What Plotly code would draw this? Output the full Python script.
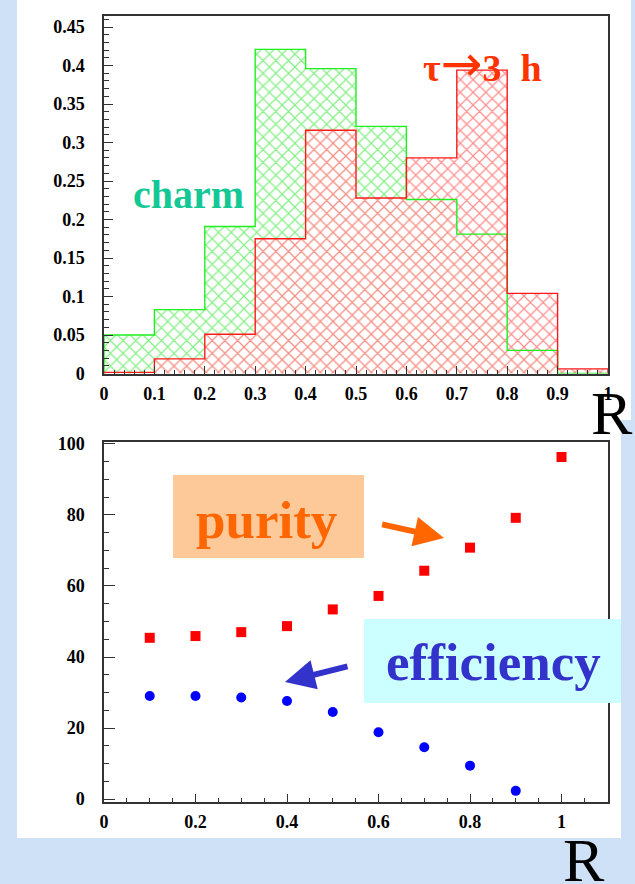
import plotly.graph_objects as go

W, H = 635, 884

# ---------------- data ----------------
bin_edges = [0.0, 0.1, 0.2, 0.3, 0.4, 0.5, 0.6, 0.7, 0.8, 0.9, 1.0]
charm = [0.050, 0.083, 0.191, 0.421, 0.396, 0.321, 0.226, 0.181, 0.030, 0.0]
tau3h = [0.0015, 0.019, 0.051, 0.175, 0.316, 0.228, 0.280, 0.394, 0.104, 0.006]

r_purity = [0.1, 0.2, 0.3, 0.4, 0.5, 0.6, 0.7, 0.8, 0.9, 1.0]
purity = [45.4, 45.9, 47.0, 48.7, 53.4, 57.2, 64.3, 70.8, 79.2, 96.3]
r_eff = [0.1, 0.2, 0.3, 0.4, 0.5, 0.6, 0.7, 0.8, 0.9]
efficiency = [29.0, 29.0, 28.6, 27.6, 24.5, 18.8, 14.6, 9.4, 2.3]

top_x_ticks = [0, 0.1, 0.2, 0.3, 0.4, 0.5, 0.6, 0.7, 0.8, 0.9, 1]
top_y_ticks = [0, 0.05, 0.1, 0.15, 0.2, 0.25, 0.3, 0.35, 0.4, 0.45]
bot_x_ticks = [0, 0.2, 0.4, 0.6, 0.8, 1]
bot_y_ticks = [0, 20, 40, 60, 80, 100]

# ---------------- helpers ----------------
def px(x):
    return x / W

def py(y):
    return 1 - y / H

centers = [(a + b) / 2 for a, b in zip(bin_edges[:-1], bin_edges[1:])]
widths = [b - a for a, b in zip(bin_edges[:-1], bin_edges[1:])]

def step_outline(edges, vals):
    xs = [edges[0]] + list(edges) + [edges[-1]]
    ys = [0] + list(vals) + [vals[-1], 0]
    return xs, ys

SERIF = "Liberation Serif"
tickfont = dict(family=SERIF, size=18, color="black", weight="bold")

fig = go.Figure()

# green (charm) hatch
fig.add_trace(go.Bar(
    x=centers, y=charm, width=widths, xaxis="x", yaxis="y",
    marker=dict(color="rgba(0,0,0,0)", line=dict(width=0),
                pattern=dict(shape="x", fgcolor="#10e010", bgcolor="rgba(0,0,0,0)",
                             size=9, solidity=0.26)),
    showlegend=False, hoverinfo="skip"))
# red (tau -> 3h) hatch
fig.add_trace(go.Bar(
    x=centers, y=tau3h, width=widths, xaxis="x", yaxis="y",
    marker=dict(color="rgba(0,0,0,0)", line=dict(width=0),
                pattern=dict(shape="x", fgcolor="#ff2020", bgcolor="rgba(255,255,255,0.85)",
                             size=9, solidity=0.26)),
    showlegend=False, hoverinfo="skip"))

gx, gy = step_outline(bin_edges, charm)
fig.add_trace(go.Scatter(x=gx, y=gy, mode="lines", line=dict(color="#1ef01e", width=1.4, shape="hv"),
                         xaxis="x", yaxis="y", showlegend=False, hoverinfo="skip"))
rx, ry = step_outline(bin_edges, tau3h)
fig.add_trace(go.Scatter(x=rx, y=ry, mode="lines", line=dict(color="#ff1a1a", width=1.4, shape="hv"),
                         xaxis="x", yaxis="y", showlegend=False, hoverinfo="skip"))

# bottom panel points
fig.add_trace(go.Scatter(x=r_purity, y=purity, mode="markers", xaxis="x2", yaxis="y2",
                         marker=dict(symbol="square", size=10, color="#ff0000"),
                         showlegend=False))
fig.add_trace(go.Scatter(x=r_eff, y=efficiency, mode="markers", xaxis="x2", yaxis="y2",
                         marker=dict(symbol="circle", size=10, color="#0000ff"),
                         showlegend=False))

axis_common = dict(showline=True, linecolor="#333333", linewidth=1.5, mirror=True,
                   showgrid=False, zeroline=False, ticks="inside", tickcolor="#333333",
                   tickwidth=1.2, tickfont=tickfont, fixedrange=True, automargin=False)

fig.update_layout(
    width=W, height=H,
    margin=dict(l=0, r=0, t=0, b=0, pad=0, autoexpand=False),
    paper_bgcolor="#cfe1f6",
    plot_bgcolor="white",
    barmode="overlay",
    xaxis=dict(domain=[px(104), px(608)], range=[0, 1], anchor="y",
               tickvals=top_x_ticks, ticktext=[f"{v:g}" for v in top_x_ticks],
               ticklen=8, ticklabelstandoff=3,
               minor=dict(dtick=0.02, tick0=0, ticklen=4, ticks="inside", tickcolor="#333333"),
               **axis_common),
    yaxis=dict(domain=[py(373.5), py(16)], range=[0, 0.4643], anchor="x",
               tickvals=top_y_ticks, ticktext=[f"{v:g}" for v in top_y_ticks],
               ticklen=9, ticklabelstandoff=14,
               minor=dict(dtick=0.01, tick0=0, ticklen=5, ticks="inside", tickcolor="#333333"),
               **axis_common),
    xaxis2=dict(domain=[px(104), px(608)], range=[0, 1.1016], anchor="y2",
                tickvals=bot_x_ticks, ticktext=[f"{v:g}" for v in bot_x_ticks],
                ticklen=8, ticklabelstandoff=3,
                minor=dict(dtick=0.05, tick0=0, ticklen=4, ticks="inside", tickcolor="#333333"),
                **axis_common),
    yaxis2=dict(domain=[py(801.7), py(441.5)], range=[-0.76, 100.7], anchor="x2",
                tickvals=bot_y_ticks, ticktext=[f"{v:g}" for v in bot_y_ticks],
                ticklen=11, ticklabelstandoff=14,
                minor=dict(dtick=5, tick0=0, ticklen=5, ticks="inside", tickcolor="#333333"),
                **axis_common),
)

shapes = [
    dict(type="rect", xref="paper", yref="paper", x0=px(17), x1=px(631), y0=py(420), y1=py(0),
         fillcolor="white", line=dict(width=0), layer="below"),
    dict(type="rect", xref="paper", yref="paper", x0=px(17), x1=px(621), y0=py(838), y1=py(420),
         fillcolor="white", line=dict(width=0), layer="below"),
    dict(type="rect", xref="paper", yref="paper", x0=px(173), x1=px(364), y0=py(558), y1=py(475),
         fillcolor="#fec999", line=dict(width=0), layer="above"),
    dict(type="rect", xref="paper", yref="paper", x0=px(364), x1=px(621), y0=py(703), y1=py(619),
         fillcolor="#ccffff", line=dict(width=0), layer="above"),
]
fig.update_layout(shapes=shapes)

tau_text = ("τ<span style='font-family:DejaVu Sans;font-size:50px;font-weight:normal'>→</span>3  h")

ann = [
    dict(text="charm", x=px(188), y=py(194), font=dict(family=SERIF, size=40, color="#14c896", weight="bold")),
    dict(text=tau_text, x=px(482), y=py(64), font=dict(family=SERIF, size=38, color="#ff3300", weight="bold")),
    dict(text="R", x=px(612), y=py(413), font=dict(family=SERIF, size=62, color="black")),
    dict(text="R", x=px(584), y=py(860), font=dict(family=SERIF, size=62, color="black")),
    dict(text="purity", x=px(266), y=py(520), font=dict(family=SERIF, size=53, color="#ff6600", weight="bold")),
    dict(text="efficiency", x=px(493), y=py(662), font=dict(family=SERIF, size=53, color="#3333cc", weight="bold")),
]
for a in ann:
    a.update(xref="paper", yref="paper", showarrow=False, xanchor="center", yanchor="middle")

arrows = [
    dict(x=px(444), y=py(538), ax=380.6 - 444, ay=524 - 538, arrowcolor="#ff6600"),
    dict(x=px(285), y=py(682), ax=349 - 285, ay=666 - 682, arrowcolor="#3333cc"),
]
for a in arrows:
    a.update(xref="paper", yref="paper", axref="pixel", ayref="pixel", text="", showarrow=True,
             arrowhead=2, arrowwidth=6, arrowsize=1, standoff=0, startstandoff=0)

fig.update_layout(annotations=ann + arrows)

fig.write_html("out.html", config={"displayModeBar": False},
               post_script="document.body.style.margin='0';document.body.style.overflow='hidden';")
